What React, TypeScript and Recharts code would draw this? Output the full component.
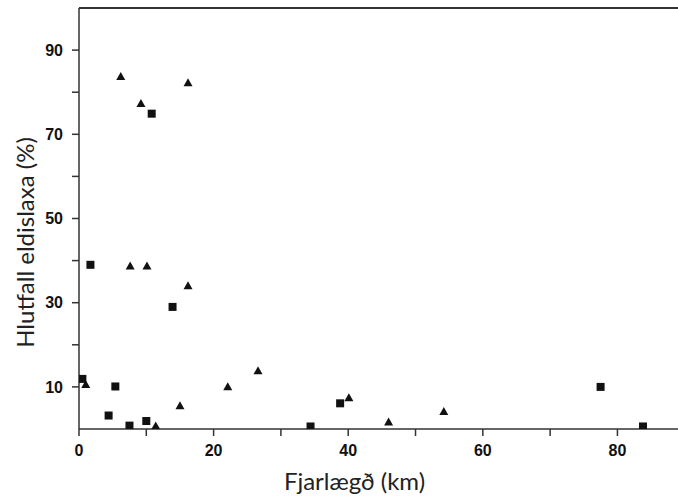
import React from 'react';
import { ScatterChart, Scatter, XAxis, YAxis, ReferenceLine, Label } from 'recharts';

// triangles
const triX = [6.2, 9.2, 16.2, 7.6, 10.1, 16.2, 1.0, 11.4, 15.0, 22.1, 26.6, 40.1, 46.0, 54.2];
const triY = [83.8, 77.4, 82.3, 38.8, 38.8, 34.1, 10.6, 0.8, 5.6, 10.1, 13.9, 7.5, 1.7, 4.2];
// squares
const sqX = [10.8, 1.7, 13.9, 0.5, 5.4, 4.4, 7.5, 10.0, 34.4, 38.8, 77.5, 83.8];
const sqY = [74.9, 39.0, 29.0, 11.9, 10.1, 3.2, 0.8, 1.9, 0.6, 6.1, 10.0, 0.6];

const xTicks = [0, 10, 20, 30, 40, 50, 60, 70, 80];
const yTicks = [10, 20, 30, 40, 50, 60, 70, 80, 90];

const xTitle = 'Fjarlægð (km)';
const yTitle = 'Hlutfall eldislaxa (%)';

const triData = triX.map((x, i) => ({ x, y: triY[i] }));
const sqData = sqX.map((x, i) => ({ x, y: sqY[i] }));

const ink = '#111';
const axisCol = '#333';
const tickFont = { fontFamily: 'Liberation Sans', fontSize: 16, fontWeight: 600, fill: ink };
const titleFont = 'Lato';

const Triangle = (props: any) => {
  const { cx, cy } = props;
  if (cx == null || cy == null) return null;
  const h = 7.5;
  const w = 9;
  return (
    <polygon
      points={`${cx},${cy - h / 2 - 0.5} ${cx - w / 2},${cy + h / 2} ${cx + w / 2},${cy + h / 2}`}
      fill={ink}
    />
  );
};

const Square = (props: any) => {
  const { cx, cy } = props;
  if (cx == null || cy == null) return null;
  const s = 8;
  return <rect x={cx - s / 2} y={cy - s / 2} width={s} height={s} fill={ink} />;
};

export default function App() {
  return (
    <div style={{ position: 'absolute', left: 0, top: 0, background: '#fff' }}>
      <ScatterChart width={678} height={499} margin={{ top: 8, right: 0, bottom: 0, left: 0 }}>
        <XAxis
          type='number'
          dataKey='x'
          domain={[0, 89]}
          ticks={xTicks}
          allowDataOverflow
          height={70}
          tickSize={7}
          tickMargin={9}
          stroke={axisCol}
          strokeWidth={1.5}
          tick={tickFont}
          tickFormatter={(v: number) => (v % 20 === 0 ? String(v) : '')}
        >
          <Label
            content={(p: any) => {
              const vb = p.viewBox;
              return (
                <text
                  x={vb.x + vb.width / 2 - 24}
                  y={vb.y + 61}
                  textAnchor='middle'
                  fontFamily={titleFont}
                  fontSize={24}
                  fill='#222'
                >
                  {xTitle}
                </text>
              );
            }}
          />
        </XAxis>
        <YAxis
          type='number'
          dataKey='y'
          domain={[0, 100]}
          ticks={yTicks}
          allowDataOverflow
          width={79}
          tickSize={7}
          tickMargin={9}
          stroke={axisCol}
          strokeWidth={1.5}
          tick={tickFont}
          tickFormatter={(v: number) => (v % 20 === 10 ? String(v) : '')}
        >
          <Label
            content={(p: any) => {
              const vb = p.viewBox;
              const cx = 34;
              const cy = vb.y + vb.height / 2 + 24;
              return (
                <text
                  x={cx}
                  y={cy}
                  transform={`rotate(-90 ${cx} ${cy})`}
                  textAnchor='middle'
                  fontFamily={titleFont}
                  fontSize={24}
                  fill='#222'
                >
                  {yTitle}
                </text>
              );
            }}
          />
        </YAxis>
        <ReferenceLine y={100} stroke={axisCol} strokeWidth={2} />
        <Scatter data={triData} shape={<Triangle />} isAnimationActive={false} />
        <Scatter data={sqData} shape={<Square />} isAnimationActive={false} />
      </ScatterChart>
    </div>
  );
}
